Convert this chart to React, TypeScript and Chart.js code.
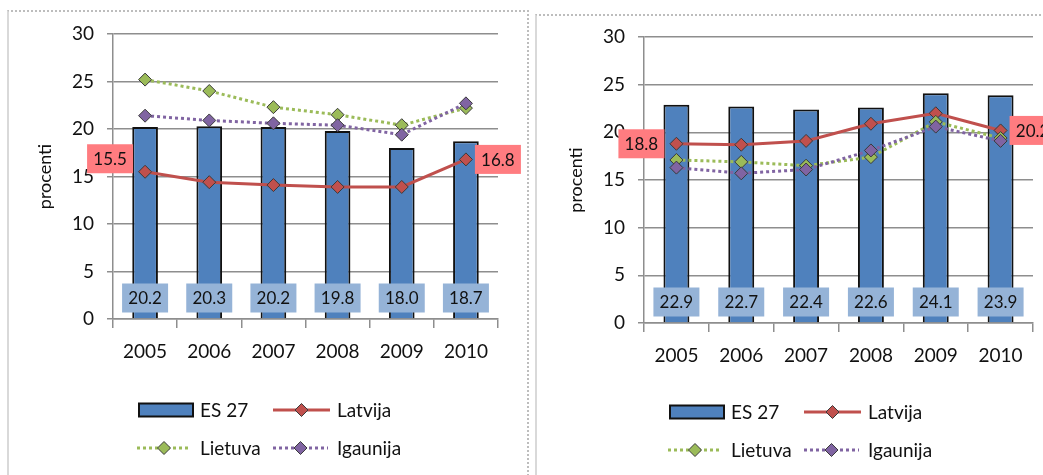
import React, { useEffect, useRef } from "react";
import { Chart, registerables } from "chart.js";

Chart.register(...registerables);

// ---------- data ----------
const years = ["2005", "2006", "2007", "2008", "2009", "2010"];
const seriesNames = ["ES 27", "Latvija", "Lietuva", "Igaunija"];
const yAxisTitle = "procenti";
const yMin = 0;
const yMax = 30;
const yStep = 5;

// left chart
const es27Left = [20.2, 20.3, 20.2, 19.8, 18.0, 18.7];
const latvijaLeft = [15.5, 14.4, 14.1, 13.9, 13.9, 16.8];
const lietuvaLeft = [25.2, 24.0, 22.3, 21.5, 20.4, 22.2];
const igaunijaLeft = [21.4, 20.9, 20.6, 20.4, 19.4, 22.7];

// right chart
const es27Right = [22.9, 22.7, 22.4, 22.6, 24.1, 23.9];
const latvijaRight = [18.8, 18.7, 19.1, 20.9, 22.0, 20.2];
const lietuvaRight = [17.1, 16.9, 16.5, 17.4, 21.1, 19.4];
const igaunijaRight = [16.3, 15.7, 16.1, 18.1, 20.6, 19.1];

// ---------- styles ----------
const FONT = "Lato, 'Open Sans', sans-serif";
const TEXT = "#111111";
const GRID = "#8e8e8e";
const C_BAR = "#4F81BD";
const C_LAT = "#C0504D";
const C_LIET = "#9BBB59";
const C_IGA = "#8064A2";
const C_BARLABEL = "#95B3D7";
const C_LATLABEL = "#FF7C80";
const MARKER_BORDER = "#3a3a3a";

function diamond(ctx: CanvasRenderingContext2D, x: number, y: number, r: number, fill: string) {
  ctx.beginPath();
  ctx.moveTo(x, y - r);
  ctx.lineTo(x + r, y);
  ctx.lineTo(x, y + r);
  ctx.lineTo(x - r, y);
  ctx.closePath();
  ctx.fillStyle = fill;
  ctx.fill();
  ctx.lineWidth = 1;
  ctx.strokeStyle = MARKER_BORDER;
  ctx.stroke();
}

const overlayPlugin = {
  id: "overlay",
  afterDatasetsDraw(chart: any, _args: any, opts: any) {
    const ctx: CanvasRenderingContext2D = chart.ctx;
    const a = chart.chartArea;
    ctx.save();
    // bar value labels
    const barMeta = chart.getDatasetMeta(0);
    const barData = chart.data.datasets[0].data;
    ctx.font = `17px ${FONT}`;
    ctx.textAlign = "center";
    ctx.textBaseline = "middle";
    barMeta.data.forEach((el: any, i: number) => {
      const x = el.x;
      const y = a.bottom - 21;
      ctx.fillStyle = C_BARLABEL;
      ctx.fillRect(x - 23, y - 14.5, 46, 29);
      ctx.fillStyle = TEXT;
      ctx.fillText(Number(barData[i]).toFixed(1), x, y + 1);
    });
    // Latvija first/last labels
    const latMeta = chart.getDatasetMeta(1);
    const latData = chart.data.datasets[1].data;
    const n = latMeta.data.length;
    const first = latMeta.data[0];
    const last = latMeta.data[n - 1];
    const drawLab = (xLeft: number, yc: number, txt: string) => {
      ctx.fillStyle = C_LATLABEL;
      ctx.fillRect(xLeft, yc - 14.5, 46, 29);
      ctx.fillStyle = TEXT;
      ctx.fillText(txt, xLeft + 23, yc + 1);
    };
    drawLab(first.x - 12 - 46, first.y + (opts.firstDy || 0), Number(latData[0]).toFixed(1));
    drawLab(last.x + 9, last.y + (opts.lastDy || 0), Number(latData[n - 1]).toFixed(1));
    ctx.restore();
  },
  afterDraw(chart: any, _args: any, opts: any) {
    const ctx: CanvasRenderingContext2D = chart.ctx;
    const a = chart.chartArea;
    const ds = chart.data.datasets;
    ctx.save();
    // y axis title
    ctx.font = `18px ${FONT}`;
    ctx.fillStyle = TEXT;
    ctx.textAlign = "center";
    ctx.textBaseline = "middle";
    ctx.translate(a.left - 68, (a.top + a.bottom) / 2);
    ctx.rotate(-Math.PI / 2);
    ctx.fillText(yAxisTitle, 0, 0);
    ctx.restore();

    // legend
    ctx.save();
    const L = a.left;
    const r1 = a.bottom + (opts.legendDy || 91);
    const r2 = r1 + 38;
    ctx.font = `19px ${FONT}`;
    ctx.textAlign = "left";
    ctx.textBaseline = "middle";
    // ES 27
    ctx.fillStyle = ds[0].backgroundColor;
    ctx.fillRect(L + 26, r1 - 6.5, 54, 13);
    ctx.strokeStyle = "#111";
    ctx.lineWidth = 2;
    ctx.strokeRect(L + 26, r1 - 6.5, 54, 13);
    ctx.fillStyle = TEXT;
    ctx.fillText(ds[0].label, L + 87, r1 + 1);
    const lineItem = (x0: number, x1: number, y: number, color: string, dash: number[], label: string, tx: number) => {
      ctx.beginPath();
      ctx.setLineDash(dash);
      ctx.strokeStyle = color;
      ctx.lineWidth = 3;
      ctx.moveTo(x0, y);
      ctx.lineTo(x1, y);
      ctx.stroke();
      ctx.setLineDash([]);
      diamond(ctx, (x0 + x1) / 2, y, 6.5, color);
      ctx.fillStyle = TEXT;
      ctx.fillText(label, tx, y + 1);
    };
    lineItem(L + 160, L + 217, r1, ds[1].borderColor, [], ds[1].label, L + 224);
    lineItem(L + 24, L + 78, r2, ds[2].borderColor, [3, 3], ds[2].label, L + 87);
    lineItem(L + 160, L + 215, r2, ds[3].borderColor, [3, 3], ds[3].label, L + 224);
    ctx.restore();
  },
};

function makeConfig(
  es: number[],
  lat: number[],
  liet: number[],
  iga: number[],
  yWidth: number,
  padding: any,
  firstDy: number,
  legendDy: number
): any {
  const lineDs = (label: string, data: number[], color: string, dash: number[], order: number) => ({
    type: "line",
    label,
    data,
    borderColor: color,
    backgroundColor: color,
    borderWidth: 3,
    borderDash: dash,
    tension: 0,
    pointStyle: "rectRot",
    pointRadius: 6.5,
    pointBackgroundColor: color,
    pointBorderColor: MARKER_BORDER,
    pointBorderWidth: 1,
    order,
  });
  return {
    type: "bar",
    data: {
      labels: years,
      datasets: [
        {
          type: "bar",
          label: seriesNames[0],
          data: es,
          backgroundColor: C_BAR,
          borderColor: "#111",
          borderWidth: 2,
          barPercentage: 0.4,
          categoryPercentage: 1,
          order: 4,
        },
        lineDs(seriesNames[1], lat, C_LAT, [], 3),
        lineDs(seriesNames[2], liet, C_LIET, [3, 3], 2),
        lineDs(seriesNames[3], iga, C_IGA, [3, 3], 1),
      ],
    },
    options: {
      responsive: false,
      animation: false,
      layout: { padding },
      plugins: {
        legend: { display: false },
        tooltip: { enabled: false },
        overlay: { firstDy, lastDy: 0, legendDy },
      },
      scales: {
        x: {
          offset: true,
          grid: {
            offset: true,
            drawOnChartArea: false,
            drawTicks: true,
            tickLength: 9,
            color: GRID,
            lineWidth: 1.5,
          },
          border: { display: true, color: GRID, width: 1.5 },
          ticks: { font: { family: FONT, size: 19 }, color: TEXT, padding: 12 },
          afterFit: (s: any) => {
            s.height = 50;
          },
        },
        y: {
          min: yMin,
          max: yMax,
          ticks: { stepSize: yStep, font: { family: FONT, size: 19 }, color: TEXT, padding: 13 },
          grid: { color: GRID, lineWidth: 1.5, tickLength: 6 },
          border: { display: true, color: GRID, width: 1.5 },
          afterFit: (s: any) => {
            s.width = yWidth;
          },
        },
      },
    },
    plugins: [overlayPlugin],
  };
}

function ChartCanvas(props: { config: () => any; left: number; width: number }) {
  const ref = useRef<HTMLCanvasElement | null>(null);
  useEffect(() => {
    if (!ref.current) return;
    const chart = new Chart(ref.current, props.config());
    return () => chart.destroy();
  }, []);
  return (
    <canvas
      ref={ref}
      width={props.width}
      height={475}
      style={{ position: "absolute", left: props.left, top: 0, width: props.width, height: 475 }}
    />
  );
}

export default function App() {
  return (
    <div
      style={{
        position: "fixed",
        left: 0,
        top: 0,
        width: 1043,
        height: 475,
        overflow: "hidden",
        background: "#fff",
      }}
    >
      <div
        style={{
          position: "absolute",
          left: 7,
          top: 10,
          width: 518,
          height: 480,
          borderTop: "2px dotted #bdbdbd",
          borderRight: "2px dotted #bdbdbd",
          borderLeft: "2px solid #d9d9d9",
        }}
      />
      <div
        style={{
          position: "absolute",
          left: 535,
          top: 14,
          width: 600,
          height: 480,
          borderTop: "2px dotted #bdbdbd",
          borderLeft: "2px solid #d9d9d9",
        }}
      />
      <ChartCanvas
        left={0}
        width={530}
        config={() =>
          makeConfig(es27Left, latvijaLeft, lietuvaLeft, igaunijaLeft, 113, { top: 34, right: 32, bottom: 106, left: 0 }, -13, 91)
        }
      />
      <ChartCanvas
        left={530}
        width={560}
        config={() =>
          makeConfig(es27Right, latvijaRight, lietuvaRight, igaunijaRight, 114, { top: 37, right: 57, bottom: 102, left: 0 }, 0, 89)
        }
      />
    </div>
  );
}
